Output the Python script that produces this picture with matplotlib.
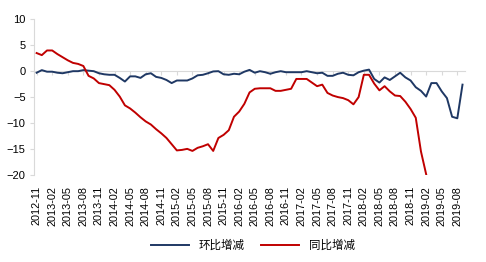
import pandas as pd
from matplotlib import pyplot as plt

plt.rcParams['font.family'] = ['Liberation Sans', 'Noto Sans CJK SC', 'DejaVu Sans']

months = pd.period_range('2012-11', '2019-09', freq='M').strftime('%Y-%m').tolist()

# 环比增减 (month on month), 2012-11 .. 2019-09
mom = [-0.3, 0.2, -0.1, -0.1, -0.3, -0.4, -0.2, 0.0, 0.0, 0.2,
       0.1, 0.0, -0.4, -0.6, -0.7, -0.7, -1.3, -2.0, -1.0, -1.0,
       -1.3, -0.6, -0.4, -1.1, -1.3, -1.7, -2.3, -1.8, -1.8, -1.8,
       -1.4, -0.8, -0.7, -0.4, -0.05, 0.0, -0.6, -0.7, -0.5, -0.6,
       -0.1, 0.25, -0.3, 0.0, -0.2, -0.5, -0.2, 0.0, -0.2, -0.2,
       -0.2, -0.2, 0.0, -0.2, -0.4, -0.3, -0.9, -0.9, -0.5, -0.3,
       -0.7, -0.8, -0.2, 0.1, 0.3, -1.5, -2.2, -1.2, -1.7, -1.0,
       -0.3, -1.2, -1.8, -3.1, -3.8, -4.9, -2.3, -2.3, -3.9, -5.2,
       -8.8, -9.1, -2.6]

# 同比增减 (year on year), 2012-11 .. 2019-02
yoy = [3.5, 3.1, 4.0, 4.0, 3.3, 2.7, 2.1, 1.6, 1.4, 1.0,
       -0.9, -1.4, -2.3, -2.5, -2.7, -3.6, -4.9, -6.6, -7.2, -8.0,
       -8.9, -9.7, -10.3, -11.2, -12.0, -12.9, -14.1, -15.3, -15.2, -15.0,
       -15.4, -14.8, -14.5, -14.1, -15.4, -12.9, -12.3, -11.4, -8.8, -7.8,
       -6.3, -4.1, -3.4, -3.3, -3.3, -3.3, -3.8, -3.8, -3.6, -3.4,
       -1.5, -1.5, -1.5, -2.2, -2.9, -2.6, -4.2, -4.7, -5.0, -5.2,
       -5.6, -6.4, -5.0, -0.7, -0.7, -2.4, -3.7, -2.9, -3.9, -4.7,
       -4.8, -5.9, -7.3, -9.0, -15.5, -19.9]

fig = plt.figure(figsize=(4.86, 2.62), dpi=100)
ax = fig.add_axes([0.07, 0.333, 0.887, 0.593])

x = list(range(len(months)))
ax.plot(x, mom, color='#1f3864', linewidth=1.4, label='环比增减')
ax.plot(x[:len(yoy)], yoy, color='#c00000', linewidth=1.4, label='同比增减')

ax.set_xlim(-0.5, len(months) - 0.5)
ax.set_ylim(-20, 10)
ax.set_yticks([10, 5, 0, -5, -10, -15, -20])

ticks = x[::3]
ax.set_xticks(ticks)
ax.set_xticklabels([months[i] for i in ticks], rotation=90, fontsize=7.8)
ax.tick_params(axis='x', length=0, pad=8)
ax.tick_params(axis='y', labelsize=8, length=3, color='#d9d9d9', pad=3)

for s in ['top', 'right', 'bottom']:
    ax.spines[s].set_visible(False)
ax.spines['left'].set_color('#d9d9d9')

# horizontal axis line crossing at zero, with its tick marks
zero = ax.secondary_xaxis(0, transform=ax.transData)
zero.set_xticks(ticks)
zero.set_xticklabels([])
zero.tick_params(length=3, color='#d9d9d9', direction='out')
zero.spines['bottom'].set_color('#d9d9d9')

fig.legend(loc='lower center', ncol=2, frameon=False,
           bbox_to_anchor=(0.52, 0.0), handlelength=3.3, columnspacing=1.5,
           prop={'family': ['Noto Sans CJK SC'], 'size': 8.3})

plt.savefig('out.png', dpi=100)
